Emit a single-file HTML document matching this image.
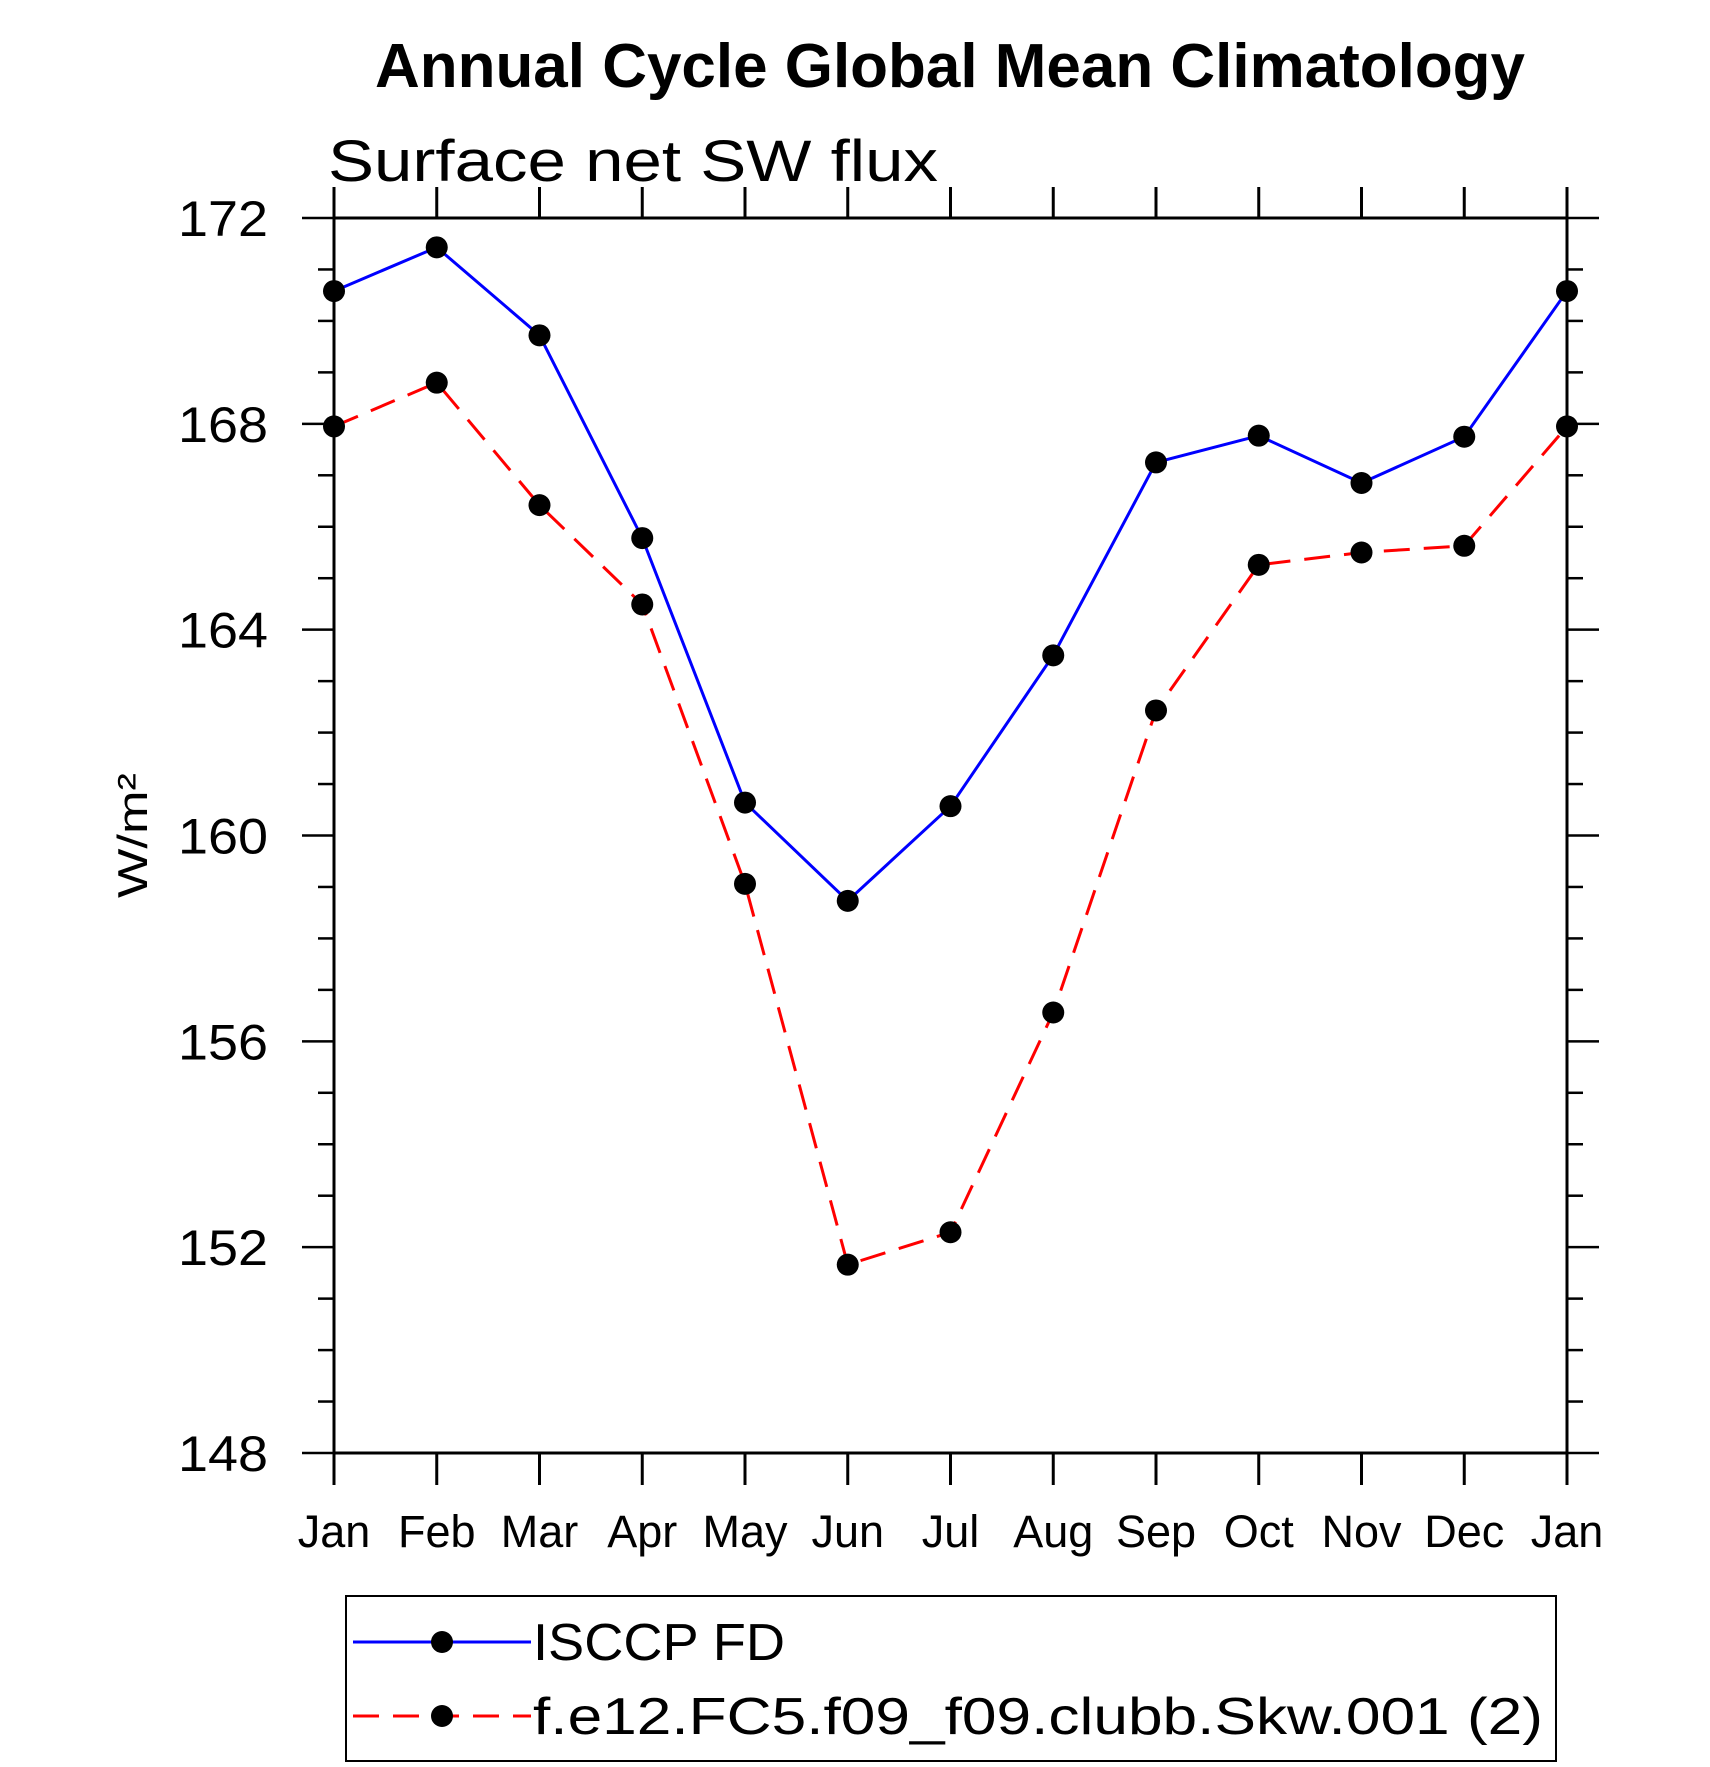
<!DOCTYPE html>
<html><head><meta charset="utf-8"><style>
html,body{margin:0;padding:0;background:#fff}
svg{display:block}
text{font-family:"Liberation Sans",sans-serif}
</style></head><body>
<svg id="chart" width="1710" height="1767" viewBox="0 0 1710 1767" xmlns="http://www.w3.org/2000/svg">
<text x="375" y="87" font-size="62" font-weight="bold" textLength="1150" lengthAdjust="spacingAndGlyphs">Annual Cycle Global Mean Climatology</text>
<text x="328" y="181" font-size="58" font-weight="300" textLength="610" lengthAdjust="spacingAndGlyphs">Surface net SW flux</text>
<text transform="translate(147,898) rotate(-90)" font-size="42" textLength="125" lengthAdjust="spacingAndGlyphs">W/m²</text>
<g id="axes"></g>
<g id="series"></g>
<g id="legend">
<rect x="346" y="1596" width="1210" height="165" fill="none" stroke="#000" stroke-width="2"/>
<g>
<line x1="353" y1="1642" x2="531" y2="1642" stroke="#0000ff" stroke-width="3"/>
<circle cx="442" cy="1642" r="11" fill="#000"/>
<text x="533" y="1660" font-size="52" textLength="252" lengthAdjust="spacingAndGlyphs">ISCCP FD</text>
</g>
<g>
<line x1="353" y1="1716" x2="531" y2="1716" stroke="#ff0000" stroke-width="3" stroke-dasharray="26 14"/>
<circle cx="442" cy="1716" r="11" fill="#000"/>
<text x="533" y="1734" font-size="52" textLength="1010" lengthAdjust="spacingAndGlyphs">f.e12.FC5.f09_f09.clubb.Skw.001 (2)</text>
</g>
</g>
</svg>
<script>
const months = ["Jan","Feb","Mar","Apr","May","Jun","Jul","Aug","Sep","Oct","Nov","Dec","Jan"];
const isccpValues = [170.58,171.43,169.72,165.78,160.64,158.73,160.57,163.5,167.25,167.77,166.85,167.75,170.58];
const modelValues = [167.95,168.8,166.42,164.49,159.06,151.66,152.29,156.56,162.43,165.26,165.5,165.63,167.95];
const yTickLabels = ["148","152","156","160","164","168","172"];
const yMin = 148, yMax = 172;

const NS = "http://www.w3.org/2000/svg";
const L = 334, R = 1567, T = 218, B = 1453;
function xs(i){ return L + (R - L) * i / (months.length - 1); }
function ys(v){ return B - (B - T) * (v - yMin) / (yMax - yMin); }
function mk(tag, attrs, parent){
  const e = document.createElementNS(NS, tag);
  for (const k in attrs) e.setAttribute(k, attrs[k]);
  parent.appendChild(e);
  return e;
}
const axes = document.getElementById('axes');
const frame = mk('rect', {x:L, y:T, width:R-L, height:B-T, fill:'none', stroke:'#000', 'stroke-width':3}, axes);



for (let v = yMin; v <= yMax; v++) {
  const y = ys(v);
  const major = (v - yMin) % 4 === 0;
  const len = major ? 32 : 16;
  const t1 = mk('line', {x1:L-len, y1:y, x2:L, y2:y, stroke:'#000', 'stroke-width':2.5}, axes);
  
  
  const t2 = mk('line', {x1:R, y1:y, x2:R+len, y2:y, stroke:'#000', 'stroke-width':2.5}, axes);
  
  
}
yTickLabels.forEach(function(lab){
  const v = parseFloat(lab);
  const t = mk('text', {x:268, y:ys(v)+18, 'font-size':50, 'text-anchor':'end', textLength:90, lengthAdjust:'spacingAndGlyphs'}, axes);
  t.textContent = lab;
  
  
});
months.forEach(function(m, i){
  const x = xs(i);
  const a = mk('line', {x1:x, y1:B, x2:x, y2:B+32, stroke:'#000', 'stroke-width':3}, axes);
  
  
  const b = mk('line', {x1:x, y1:T-31, x2:x, y2:T, stroke:'#000', 'stroke-width':3}, axes);
  
  
  const t = mk('text', {x:x, y:1547, 'font-size':45, 'text-anchor':'middle'}, axes);
  t.textContent = m;
  
  
});

const series = document.getElementById('series');
function drawSeries(vals, color, dash, name){
  const pts = vals.map(function(v,i){ return xs(i)+','+ys(v); }).join(' ');
  const attrs = {points:pts, fill:'none', stroke:color, 'stroke-width':3};
  if (dash) attrs['stroke-dasharray'] = dash;
  const pl = mk('polyline', attrs, series);
  
  
  vals.forEach(function(v,i){
    const c = mk('circle', {cx:xs(i), cy:ys(v), r:11, fill:'#000'}, series);
    
    
  });
}
drawSeries(isccpValues, '#0000ff', null, 'isccp');
drawSeries(modelValues, '#ff0000', '26 14', 'model');
</script>
</body></html>
